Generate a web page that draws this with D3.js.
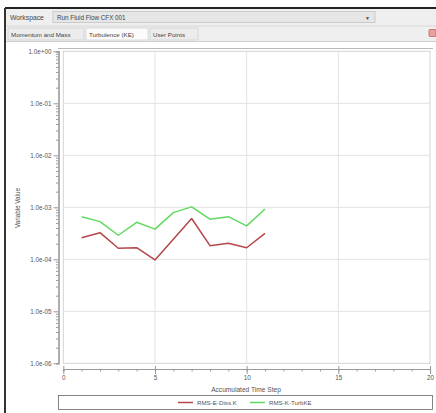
<!DOCTYPE html>
<html>
<head>
<meta charset="utf-8">
<script src="https://cdn.jsdelivr.net/npm/d3@7"></script>
<style>
  body { margin: 0; background: #fff; }
  svg { display: block; font-family: "Liberation Sans", Arial, sans-serif; }
  .ui text { fill: #444; font-size: 6.8px; }
  .axis text { fill: #555; font-size: 6.3px; font-family: "Liberation Sans", Arial, sans-serif; }
  .axis path, .axis line { stroke: #999; }
</style>
</head>
<body>
<svg id="chart" width="436" height="413"></svg>
<script>
const steps = [1, 2, 3, 4, 5, 6, 7, 8, 9, 10, 11];
const rmsEDiss = [2.6e-4, 3.25e-4, 1.63e-4, 1.67e-4, 9.7e-5, 2.43e-4, 6.1e-4, 1.83e-4, 2.03e-4, 1.67e-4, 3.16e-4];
const rmsKTurb = [6.6e-4, 5.3e-4, 2.9e-4, 5.15e-4, 3.8e-4, 7.9e-4, 1.02e-3, 5.9e-4, 6.6e-4, 4.4e-4, 9.3e-4];
const seriesNames = ["RMS-E-Diss.K", "RMS-K-TurbKE"];
const seriesColors = ["#b5474c", "#62d862"];
const yDecades = [1, 1e-1, 1e-2, 1e-3, 1e-4, 1e-5, 1e-6];
const xMajor = [0, 5, 10, 15, 20];
const tabNames = ["Momentum and Mass", "Turbulence (KE)", "User Points"];

const svg = d3.select("#chart");

// window chrome
svg.append("rect").attr("x", 5).attr("y", 8).attr("width", 431).attr("height", 405).attr("fill", "#fff");
const ui = svg.append("g").attr("class", "ui");
ui.append("rect").attr("x", 6).attr("y", 9).attr("width", 430).attr("height", 33).attr("fill", "#efefef");
ui.append("text").attr("x", 10).attr("y", 19.5).text("Workspace");
ui.append("rect").attr("x", 53).attr("y", 11.5).attr("width", 322).attr("height", 11)
  .attr("fill", "#e6e6e6").attr("stroke", "#c4c4c4").attr("stroke-width", 0.8);
ui.append("text").attr("x", 57).attr("y", 19.5).style("font-size", "6.3px").text("Run Fluid Flow CFX 001");
ui.append("text").attr("x", 365).attr("y", 19.5).style("font-size", "5px").text("▼");
ui.append("line").attr("x1", 6).attr("x2", 436).attr("y1", 26).attr("y2", 26).attr("stroke", "#d8d8d8");

const tabX = [8, 86, 150];
const tabW = [76, 62, 48];
tabNames.forEach((t, i) => {
  ui.append("rect").attr("x", tabX[i]).attr("y", 28).attr("width", tabW[i]).attr("height", 12)
    .attr("fill", i === 1 ? "#fbfbfb" : "#ececec").attr("stroke", "#cfcfcf").attr("stroke-width", 0.7);
  ui.append("text").attr("x", tabX[i] + 3).attr("y", 36.5).style("font-size", "6.2px").text(t);
});
ui.append("rect").attr("x", 429).attr("y", 29.5).attr("width", 7).attr("height", 7).attr("rx", 1)
  .attr("fill", "#e8a0a0").attr("stroke", "#c05050").attr("stroke-width", 0.7);
ui.append("line").attr("x1", 6).attr("x2", 436).attr("y1", 41.5).attr("y2", 41.5).attr("stroke", "#cfcfcf");

svg.append("line").attr("x1", 5).attr("x2", 436).attr("y1", 8).attr("y2", 8).attr("stroke", "#222").attr("stroke-width", 2);
svg.append("line").attr("x1", 5).attr("x2", 5).attr("y1", 8).attr("y2", 413).attr("stroke", "#333").attr("stroke-width", 2);

// scales
const x = d3.scaleLinear().domain([0, 20]).range([63.3, 430]);
const y = d3.scaleLog().domain([1e-6, 1]).range([363.3, 51.3]);

// plot area frame + grid
svg.append("line").attr("x1", 58).attr("x2", 433).attr("y1", 48.5).attr("y2", 48.5).attr("stroke", "#b8b8b8").attr("stroke-width", 1.2);
svg.append("rect").attr("x", x(0)).attr("y", y(1)).attr("width", x(20) - x(0)).attr("height", y(1e-6) - y(1))
  .attr("fill", "#fff").attr("stroke", "#d4d4d4");
svg.append("g").selectAll("line").data(yDecades.slice(1, -1)).join("line")
  .attr("x1", x(0)).attr("x2", x(20)).attr("y1", d => y(d)).attr("y2", d => y(d))
  .attr("stroke", "#e2e2e2");
svg.append("g").selectAll("line").data(xMajor.slice(1, -1)).join("line")
  .attr("y1", y(1)).attr("y2", y(1e-6)).attr("x1", d => x(d)).attr("x2", d => x(d))
  .attr("stroke", "#e2e2e2");

// y axis
const fmtExp = d => {
  const e = Math.round(Math.log10(d));
  return "1.0e" + (e < 0 ? "-" : "+") + String(Math.abs(e)).padStart(2, "0");
};
const minorY = [];
yDecades.slice(1).forEach(dec => { for (let k = 2; k <= 9; k++) minorY.push(dec * k); });

svg.append("g").attr("class", "axis").attr("transform", "translate(58.5,0)")
  .call(d3.axisLeft(y).tickValues(minorY).tickSize(2.5).tickFormat(""))
  .call(g => g.select(".domain").attr("stroke-width", 1.6).attr("stroke", "#a8a8a8"));
svg.append("g").attr("class", "axis").attr("transform", "translate(58.5,0)")
  .call(d3.axisLeft(y).tickValues(yDecades).tickSize(5).tickPadding(2).tickFormat(fmtExp))
  .call(g => g.select(".domain").remove());

// x axis
svg.append("g").attr("class", "axis").attr("transform", "translate(0,369)")
  .call(d3.axisBottom(x).tickValues(d3.range(0, 21)).tickSize(2.5).tickFormat(""))
  .call(g => g.select(".domain").attr("stroke-width", 1.2));
const xMajorAxis = svg.append("g").attr("class", "axis").attr("transform", "translate(0,369)")
  .call(d3.axisBottom(x).tickValues(xMajor).tickSize(5).tickPadding(2).tickFormat(d3.format("d")))
  .call(g => g.select(".domain").remove());
xMajorAxis.selectAll(".tick line").attr("y1", -3);

// axis titles
svg.append("text").attr("x", 246).attr("y", 391.5).attr("text-anchor", "middle")
  .style("font-size", "6.6px").attr("fill", "#555").text("Accumulated Time Step");
svg.append("text").attr("transform", "translate(20,208) rotate(-90)").attr("text-anchor", "middle")
  .style("font-size", "6.3px").attr("fill", "#555").text("Variable Value");

// series
const line = d3.line().x((d, i) => x(steps[i])).y(d => y(d));
[rmsEDiss, rmsKTurb].forEach((s, i) => {
  svg.append("path").datum(s).attr("d", line).attr("fill", "none")
    .attr("stroke", seriesColors[i]).attr("stroke-width", 1.5).attr("stroke-linejoin", "round");
});

// legend
svg.append("rect").attr("x", 58.5).attr("y", 395.5).attr("width", 374).attr("height", 14)
  .attr("fill", "#fff").attr("stroke", "#666").attr("stroke-width", 0.8);
const legX = [178, 250];
seriesNames.forEach((n, i) => {
  svg.append("line").attr("x1", legX[i]).attr("x2", legX[i] + 15).attr("y1", 402.5).attr("y2", 402.5)
    .attr("stroke", seriesColors[i]).attr("stroke-width", 1.5);
  svg.append("text").attr("x", legX[i] + 19).attr("y", 404.8).style("font-size", "6.2px")
    .attr("fill", "#555").text(n);
});
</script>
</body>
</html>
